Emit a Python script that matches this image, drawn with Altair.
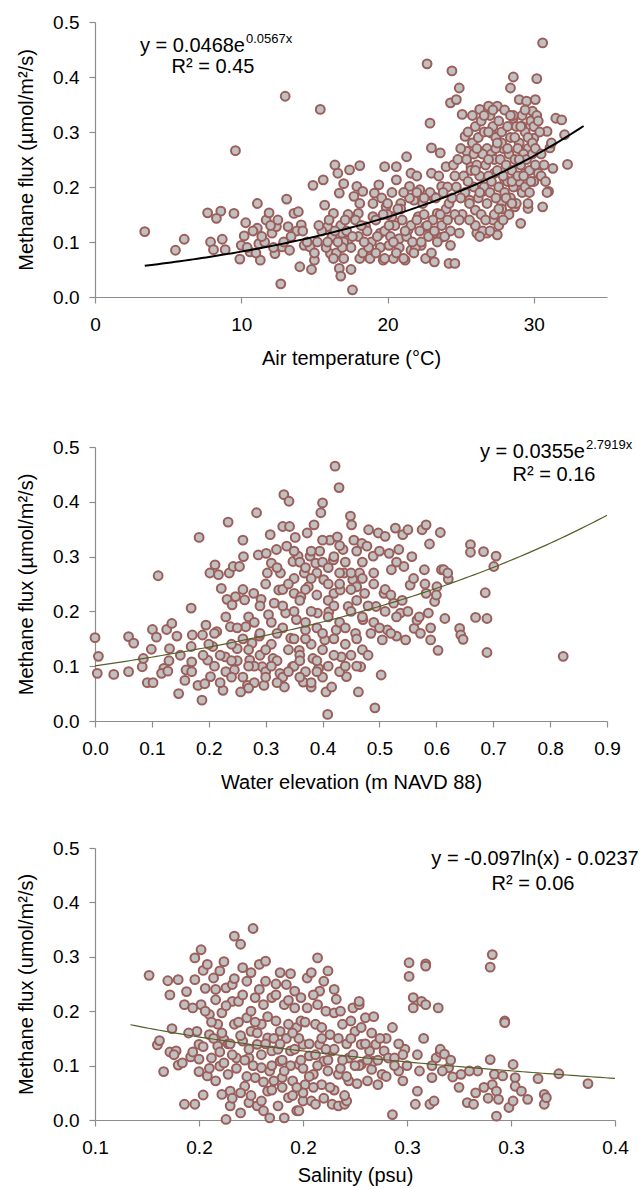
import altair as alt
import pandas as pd

FONT = "Liberation Sans"
FILL = "#c0c0c0"
EDGE = "#9b5e5a"
AXIS_GRAY = "#8c8c8c"

# ---------------- Panel 1: air temperature ----------------
temp_points = [
    (3.4, 0.119), (5.5, 0.085), (6.1, 0.105), (7.7, 0.153), (8.6, 0.156), (8.3, 0.143), (7.9, 0.100),
    (8.1, 0.086), (8.7, 0.105), (8.9, 0.086), (9.5, 0.152), (9.6, 0.266), (10.0, 0.094), (9.9, 0.069),
    (10.2, 0.111), (10.3, 0.135), (11.1, 0.170), (11.1, 0.125), (10.6, 0.082), (11.2, 0.097), (11.3, 0.067),
    (11.7, 0.140), (11.9, 0.153), (12.1, 0.116), (12.3, 0.079), (12.4, 0.128), (12.7, 0.024), (12.8, 0.091),
    (13.1, 0.178), (13.0, 0.365), (13.2, 0.128), (13.3, 0.085), (13.6, 0.152), (13.9, 0.155), (14.1, 0.131),
    (14.0, 0.055), (14.3, 0.094), (14.7, 0.091), (14.8, 0.050), (14.9, 0.203), (15.0, 0.067), (15.4, 0.341),
    (15.6, 0.213), (15.7, 0.167), (15.9, 0.128), (16.1, 0.079), (16.3, 0.152), (16.4, 0.240), (16.6, 0.225),
    (16.7, 0.189), (16.7, 0.052), (16.8, 0.038), (16.9, 0.116), (17.0, 0.206), (17.3, 0.103), (17.4, 0.231),
    (17.5, 0.050), (17.6, 0.013), (17.7, 0.183), (17.9, 0.201), (18.1, 0.239), (18.1, 0.170), (18.3, 0.192),
    (18.1, 0.070), (18.0, 0.152), (18.5, 0.128), (18.8, 0.082), (19.0, 0.146), (19.1, 0.189), (19.4, 0.204),
    (19.5, 0.116), (19.7, 0.067), (19.8, 0.237), (19.9, 0.164), (20.1, 0.094), (20.3, 0.146), (20.4, 0.070),
    (20.6, 0.213), (20.6, 0.237), (20.8, 0.106), (20.9, 0.170), (21.2, 0.067), (21.3, 0.255), (21.4, 0.122),
    (21.5, 0.201), (21.6, 0.225), (21.6, 0.085), (21.8, 0.176), (22.1, 0.146), (22.2, 0.195), (22.3, 0.094),
    (22.6, 0.128), (22.7, 0.424), (22.9, 0.316), (23.0, 0.271), (23.0, 0.225), (23.1, 0.183), (23.2, 0.064),
    (23.2, 0.116), (23.4, 0.152), (23.6, 0.262), (23.7, 0.201), (23.7, 0.109), (24.0, 0.237), (24.2, 0.061),
    (24.3, 0.353), (24.3, 0.094), (24.4, 0.411), (24.6, 0.061), (24.7, 0.359), (24.9, 0.380), (24.9, 0.116),
    (25.1, 0.332), (25.3, 0.292), (25.4, 0.265), (25.6, 0.176), (25.7, 0.237), (26.0, 0.158), (26.1, 0.116),
    (26.3, 0.341), (26.4, 0.262), (26.5, 0.192), (26.8, 0.116), (26.9, 0.347), (27.1, 0.298), (27.3, 0.225),
    (27.5, 0.347), (27.5, 0.113), (27.7, 0.274), (27.8, 0.170), (28.0, 0.213), (28.4, 0.380), (28.6, 0.400),
    (28.6, 0.325), (28.7, 0.164), (28.8, 0.201), (29.1, 0.134), (29.0, 0.359), (29.2, 0.310), (29.4, 0.225),
    (29.5, 0.356), (29.6, 0.161), (29.9, 0.338), (30.0, 0.289), (30.1, 0.359), (30.2, 0.397), (30.3, 0.225),
    (30.6, 0.462), (30.6, 0.164), (30.9, 0.301), (31.0, 0.192), (31.1, 0.271), (31.3, 0.234), (31.5, 0.325),
    (31.9, 0.322), (32.1, 0.295), (32.3, 0.241),
    (25.5, 0.30), (25.8, 0.28), (26.0, 0.31), (26.2, 0.29), (26.4, 0.32), (26.6, 0.30), (26.8, 0.27),
    (27.0, 0.33), (27.2, 0.31), (27.4, 0.29), (27.6, 0.32), (27.8, 0.30), (28.0, 0.34), (28.2, 0.31),
    (28.4, 0.29), (28.6, 0.33), (28.8, 0.31), (29.0, 0.28), (29.2, 0.33), (29.4, 0.30), (29.6, 0.27),
    (29.8, 0.32), (30.0, 0.31), (30.2, 0.33), (30.4, 0.30),
    (25.4, 0.25), (25.7, 0.23), (25.9, 0.26), (26.1, 0.24), (26.3, 0.22), (26.5, 0.26), (26.7, 0.24),
    (26.9, 0.22), (27.1, 0.26), (27.3, 0.25), (27.5, 0.23), (27.7, 0.25), (27.9, 0.27), (28.1, 0.24),
    (28.3, 0.26), (28.5, 0.23), (28.7, 0.25), (28.9, 0.27), (29.1, 0.24), (29.3, 0.26), (29.5, 0.25),
    (29.7, 0.23), (29.9, 0.26), (30.1, 0.24), (30.5, 0.22), (30.8, 0.21),
    (25.3, 0.19), (25.6, 0.17), (25.9, 0.20), (26.2, 0.18), (26.4, 0.15), (26.6, 0.20), (26.8, 0.17),
    (27.0, 0.19), (27.2, 0.14), (27.4, 0.18), (27.6, 0.20), (27.8, 0.16), (28.0, 0.19), (28.2, 0.21),
    (28.4, 0.18), (28.6, 0.20), (28.8, 0.17), (29.0, 0.21), (29.2, 0.19), (29.4, 0.20), (29.7, 0.19),
    (30.0, 0.21), (26.0, 0.13), (26.5, 0.12), (27.0, 0.12), (27.6, 0.13), (27.3, 0.15), (28.3, 0.15),
    (25.2, 0.22), (25.5, 0.21), (25.8, 0.33), (26.1, 0.27), (26.3, 0.19), (26.6, 0.33), (26.7, 0.14),
    (26.9, 0.30), (27.1, 0.21), (27.2, 0.34), (27.4, 0.27), (27.6, 0.16), (27.8, 0.28), (27.9, 0.22),
    (28.1, 0.18), (28.2, 0.27), (28.4, 0.33), (28.5, 0.21), (28.7, 0.29), (28.9, 0.22), (29.0, 0.25),
    (29.1, 0.31), (29.3, 0.22), (29.4, 0.34), (29.6, 0.29), (29.8, 0.21), (29.9, 0.28), (30.1, 0.27),
    (30.3, 0.32), (30.5, 0.26), (30.7, 0.24), (30.9, 0.19), (31.2, 0.28), (25.0, 0.27), (24.6, 0.22),
    (24.1, 0.20), (25.1, 0.15), (25.6, 0.14), (26.3, 0.11), (27.9, 0.14), (28.5, 0.17), (29.6, 0.17),
    (26.0, 0.23), (26.9, 0.25), (27.5, 0.28),
    (15.2, 0.10), (15.5, 0.12), (15.8, 0.09), (16.0, 0.14), (16.2, 0.11), (16.5, 0.08), (16.8, 0.13),
    (17.0, 0.10), (17.2, 0.12), (17.5, 0.09), (17.8, 0.14), (18.0, 0.11), (18.3, 0.08), (18.6, 0.12),
    (18.9, 0.10), (19.2, 0.14), (19.5, 0.09), (19.8, 0.12), (20.0, 0.15), (20.2, 0.11), (20.5, 0.13),
    (20.8, 0.09), (21.0, 0.14), (21.3, 0.11), (21.6, 0.13), (21.9, 0.09), (22.2, 0.12), (22.5, 0.15),
    (22.8, 0.11), (23.1, 0.14), (23.4, 0.10), (23.7, 0.13), (24.0, 0.16), (24.3, 0.12), (24.6, 0.15),
    (24.9, 0.14), (19.0, 0.17), (19.6, 0.18), (20.3, 0.19), (20.9, 0.16), (21.5, 0.18), (22.0, 0.19),
    (22.4, 0.17), (22.9, 0.19), (23.3, 0.18), (23.8, 0.19), (24.2, 0.17), (24.7, 0.20), (25.0, 0.18),
    (23.5, 0.22), (24.5, 0.24), (24.8, 0.25), (22.0, 0.22),
    (16.3, 0.07), (17.0, 0.07), (18.8, 0.07), (19.8, 0.07), (20.6, 0.08), (21.1, 0.07), (21.8, 0.08),
    (22.6, 0.07), (23.0, 0.08), (15.0, 0.08), (14.5, 0.10), (13.8, 0.12), (12.9, 0.10), (12.2, 0.09),
    (11.6, 0.10), (11.0, 0.08),
    (15.3, 0.13), (15.9, 0.10), (16.4, 0.12), (16.9, 0.09), (17.3, 0.15), (17.6, 0.11), (18.2, 0.13),
    (18.7, 0.09), (19.3, 0.11), (19.7, 0.15), (20.1, 0.13), (20.4, 0.10), (20.7, 0.16), (21.2, 0.12),
    (21.7, 0.10), (22.0, 0.14), (22.3, 0.10), (22.7, 0.13), (23.2, 0.12), (23.6, 0.15), (24.1, 0.14),
    (24.4, 0.18), (23.9, 0.11), (22.5, 0.18), (21.1, 0.19), (20.0, 0.17), (19.2, 0.08), (18.4, 0.10),
    (17.1, 0.14), (16.6, 0.10), (14.2, 0.12), (13.4, 0.11), (12.5, 0.14), (12.0, 0.13), (11.4, 0.11),
    (10.8, 0.12), (10.4, 0.09),
]
temp_ticks = [0, 10, 20, 30]
temp_trend = {"a": 0.0468, "b": 0.0567, "x0": 3.4, "x1": 33.4}
temp_eq = ("y = 0.0468e", "0.0567x", "R² = 0.45")

# ---------------- Panel 2: water elevation ----------------
elev_points = [
    (0.000, 0.152), (0.006, 0.118), (0.004, 0.087), (0.033, 0.085), (0.059, 0.154), (0.068, 0.142),
    (0.059, 0.090), (0.083, 0.099), (0.085, 0.114), (0.092, 0.070), (0.102, 0.070), (0.101, 0.167),
    (0.108, 0.153), (0.111, 0.265), (0.099, 0.131), (0.121, 0.096), (0.117, 0.087), (0.126, 0.167),
    (0.135, 0.178), (0.131, 0.132), (0.128, 0.091), (0.144, 0.155), (0.147, 0.050), (0.158, 0.074),
    (0.160, 0.093), (0.169, 0.206), (0.171, 0.157), (0.170, 0.108), (0.169, 0.136), (0.181, 0.065),
    (0.183, 0.335), (0.188, 0.038), (0.189, 0.157), (0.193, 0.068), (0.195, 0.175), (0.198, 0.111),
    (0.202, 0.270), (0.211, 0.285), (0.217, 0.267), (0.203, 0.081), (0.207, 0.136), (0.214, 0.163),
    (0.222, 0.242), (0.225, 0.056), (0.229, 0.117), (0.232, 0.222), (0.234, 0.363), (0.236, 0.270),
    (0.238, 0.172), (0.241, 0.212), (0.243, 0.282), (0.245, 0.093), (0.247, 0.227), (0.250, 0.132),
    (0.254, 0.282), (0.256, 0.053), (0.260, 0.330), (0.261, 0.300), (0.263, 0.221), (0.265, 0.172),
    (0.268, 0.065), (0.272, 0.111), (0.276, 0.142), (0.279, 0.233), (0.284, 0.380), (0.287, 0.303),
    (0.289, 0.155), (0.292, 0.222), (0.294, 0.099), (0.297, 0.065), (0.301, 0.306), (0.303, 0.270),
    (0.305, 0.194), (0.308, 0.340), (0.310, 0.288), (0.313, 0.114), (0.315, 0.215), (0.319, 0.313),
    (0.323, 0.239), (0.325, 0.087), (0.326, 0.270), (0.330, 0.355), (0.332, 0.413), (0.333, 0.062),
    (0.335, 0.197), (0.337, 0.319), (0.341, 0.401), (0.342, 0.355), (0.344, 0.151), (0.347, 0.099),
    (0.348, 0.291), (0.350, 0.233), (0.352, 0.335), (0.354, 0.185), (0.357, 0.301), (0.359, 0.129),
    (0.362, 0.227), (0.366, 0.071), (0.368, 0.270), (0.370, 0.166), (0.373, 0.343), (0.375, 0.245),
    (0.378, 0.301), (0.380, 0.062), (0.383, 0.114), (0.385, 0.358), (0.388, 0.288), (0.391, 0.197),
    (0.393, 0.096), (0.395, 0.310), (0.397, 0.380), (0.400, 0.398), (0.402, 0.258), (0.404, 0.148),
    (0.406, 0.053), (0.409, 0.012), (0.411, 0.199), (0.413, 0.330), (0.416, 0.062), (0.419, 0.294),
    (0.420, 0.233), (0.422, 0.465), (0.424, 0.166), (0.426, 0.336), (0.429, 0.426), (0.431, 0.239),
    (0.433, 0.117), (0.436, 0.313), (0.438, 0.270), (0.442, 0.081), (0.445, 0.209), (0.449, 0.374),
    (0.451, 0.358), (0.453, 0.258), (0.455, 0.330), (0.458, 0.160), (0.460, 0.245), (0.463, 0.053),
    (0.465, 0.270), (0.467, 0.099), (0.469, 0.324), (0.471, 0.185), (0.474, 0.233), (0.478, 0.319),
    (0.481, 0.349), (0.485, 0.160), (0.489, 0.301), (0.492, 0.024), (0.494, 0.209), (0.498, 0.343),
    (0.503, 0.084), (0.505, 0.148), (0.508, 0.233), (0.510, 0.337), (0.514, 0.166), (0.517, 0.306),
    (0.521, 0.276), (0.525, 0.215), (0.528, 0.352), (0.530, 0.155), (0.534, 0.313), (0.537, 0.197),
    (0.541, 0.340), (0.543, 0.282), (0.546, 0.148), (0.550, 0.349), (0.554, 0.248), (0.557, 0.300),
    (0.561, 0.169), (0.566, 0.184), (0.572, 0.160), (0.575, 0.349), (0.579, 0.276), (0.582, 0.358),
    (0.582, 0.233), (0.586, 0.197), (0.588, 0.323), (0.590, 0.148), (0.597, 0.218), (0.601, 0.245),
    (0.603, 0.129), (0.607, 0.344), (0.609, 0.276), (0.613, 0.276), (0.615, 0.187), (0.621, 0.259),
    (0.641, 0.169), (0.643, 0.157), (0.647, 0.149), (0.660, 0.322), (0.660, 0.308), (0.669, 0.189),
    (0.683, 0.309), (0.686, 0.234), (0.689, 0.187), (0.689, 0.125), (0.701, 0.282), (0.705, 0.301),
    (0.823, 0.118),
    (0.21, 0.10), (0.22, 0.12), (0.23, 0.09), (0.24, 0.14), (0.25, 0.11), (0.26, 0.08), (0.27, 0.13),
    (0.28, 0.10), (0.29, 0.12), (0.30, 0.09), (0.31, 0.14), (0.32, 0.11), (0.33, 0.08), (0.34, 0.13),
    (0.35, 0.10), (0.36, 0.12), (0.37, 0.09), (0.38, 0.14), (0.39, 0.11), (0.40, 0.13), (0.41, 0.10),
    (0.42, 0.12), (0.43, 0.09), (0.44, 0.14), (0.45, 0.12), (0.46, 0.10), (0.47, 0.13),
    (0.25, 0.17), (0.27, 0.19), (0.29, 0.16), (0.31, 0.18), (0.33, 0.17), (0.35, 0.20), (0.37, 0.18),
    (0.39, 0.17), (0.41, 0.19), (0.43, 0.18), (0.45, 0.20), (0.47, 0.19), (0.49, 0.18), (0.51, 0.20),
    (0.53, 0.19), (0.55, 0.20),
    (0.33, 0.24), (0.35, 0.26), (0.37, 0.24), (0.39, 0.27), (0.41, 0.25), (0.43, 0.27), (0.45, 0.24),
    (0.47, 0.26), (0.49, 0.25), (0.51, 0.24), (0.36, 0.29), (0.38, 0.31), (0.40, 0.29), (0.42, 0.30),
    (0.44, 0.29), (0.46, 0.31),
    (0.28, 0.07), (0.30, 0.08), (0.32, 0.07), (0.36, 0.08), (0.38, 0.07), (0.40, 0.08), (0.22, 0.07),
    (0.24, 0.08), (0.27, 0.06),
    (0.20, 0.14), (0.21, 0.16), (0.23, 0.19), (0.24, 0.11), (0.26, 0.15), (0.26, 0.24), (0.27, 0.10),
    (0.28, 0.18), (0.29, 0.21), (0.30, 0.13), (0.30, 0.25), (0.31, 0.10), (0.32, 0.16), (0.32, 0.28),
    (0.33, 0.21), (0.34, 0.09), (0.34, 0.25), (0.35, 0.15), (0.35, 0.31), (0.36, 0.22), (0.36, 0.11),
    (0.37, 0.28), (0.37, 0.15), (0.38, 0.20), (0.38, 0.26), (0.39, 0.09), (0.39, 0.23), (0.40, 0.16),
    (0.40, 0.33), (0.41, 0.22), (0.41, 0.28), (0.42, 0.15), (0.42, 0.21), (0.43, 0.25), (0.43, 0.32),
    (0.44, 0.10), (0.44, 0.17), (0.45, 0.27), (0.46, 0.22), (0.46, 0.15), (0.47, 0.29), (0.48, 0.21),
    (0.48, 0.12), (0.49, 0.27), (0.50, 0.17), (0.50, 0.31), (0.52, 0.23), (0.52, 0.16), (0.53, 0.29),
    (0.54, 0.22), (0.56, 0.26), (0.57, 0.19), (0.58, 0.25), (0.59, 0.17), (0.60, 0.23), (0.62, 0.27),
    (0.19, 0.12), (0.17, 0.09), (0.15, 0.12), (0.13, 0.11),
]
elev_ticks = [0.0, 0.1, 0.2, 0.3, 0.4, 0.5, 0.6, 0.7, 0.8, 0.9]
elev_trend = {"a": 0.1007, "b": 1.462, "x0": 0.0, "x1": 0.9}
elev_eq = ("y = 0.0355e", "2.7919x", "R² = 0.16")

# ---------------- Panel 3: salinity ----------------
sal_points = [
    (0.126, 0.266), (0.130, 0.138), (0.131, 0.146), (0.133, 0.089), (0.135, 0.256), (0.136, 0.230),
    (0.137, 0.168), (0.136, 0.125), (0.140, 0.258), (0.140, 0.101), (0.139, 0.127), (0.143, 0.029),
    (0.143, 0.212), (0.144, 0.236), (0.146, 0.116), (0.147, 0.206), (0.148, 0.298), (0.148, 0.029),
    (0.148, 0.258), (0.149, 0.163), (0.150, 0.089), (0.150, 0.139), (0.151, 0.313), (0.151, 0.212),
    (0.152, 0.275), (0.152, 0.046), (0.153, 0.242), (0.154, 0.286), (0.154, 0.081), (0.155, 0.194),
    (0.155, 0.157), (0.156, 0.114), (0.157, 0.261), (0.158, 0.072), (0.158, 0.221), (0.159, 0.176),
    (0.159, 0.136), (0.160, 0.099), (0.160, 0.274), (0.161, 0.047), (0.161, 0.197), (0.162, 0.291),
    (0.162, 0.148), (0.163, 0.001), (0.163, 0.243), (0.164, 0.084), (0.165, 0.026), (0.165, 0.053),
    (0.166, 0.218), (0.166, 0.249), (0.167, 0.338), (0.167, 0.176), (0.168, 0.114), (0.169, 0.218),
    (0.170, 0.323), (0.170, 0.013), (0.171, 0.280), (0.171, 0.145), (0.172, 0.062), (0.173, 0.188),
    (0.173, 0.255), (0.174, 0.032), (0.174, 0.114), (0.175, 0.271), (0.175, 0.163), (0.176, 0.352),
    (0.177, 0.078), (0.177, 0.225), (0.178, 0.026), (0.178, 0.139), (0.179, 0.286), (0.180, 0.176),
    (0.180, 0.096), (0.181, 0.017), (0.181, 0.212), (0.182, 0.255), (0.182, 0.292), (0.183, 0.053),
    (0.183, 0.151), (0.184, 0.004), (0.185, 0.127), (0.185, 0.225), (0.186, 0.072), (0.187, 0.230),
    (0.187, 0.182), (0.188, 0.026), (0.189, 0.108), (0.189, 0.271), (0.189, 0.163), (0.190, 0.078),
    (0.191, 0.004), (0.191, 0.212), (0.192, 0.249), (0.193, 0.176), (0.193, 0.041), (0.194, 0.269),
    (0.194, 0.127), (0.195, 0.072), (0.196, 0.206), (0.196, 0.237), (0.197, 0.017), (0.197, 0.170),
    (0.198, 0.102), (0.198, 0.017), (0.199, 0.225), (0.199, 0.182), (0.200, 0.035), (0.200, 0.139),
    (0.201, 0.065), (0.202, 0.261), (0.202, 0.206), (0.203, 0.118), (0.204, 0.035), (0.204, 0.271),
    (0.205, 0.084), (0.206, 0.176), (0.206, 0.029), (0.207, 0.212), (0.207, 0.298), (0.208, 0.237),
    (0.208, 0.139), (0.209, 0.065), (0.210, 0.255), (0.210, 0.108), (0.211, 0.200), (0.212, 0.274),
    (0.212, 0.090), (0.213, 0.157), (0.214, 0.029), (0.214, 0.127), (0.215, 0.197), (0.216, 0.222),
    (0.217, 0.084), (0.217, 0.026), (0.218, 0.200), (0.219, 0.176), (0.220, 0.029), (0.221, 0.035),
    (0.222, 0.114), (0.222, 0.072), (0.223, 0.182), (0.224, 0.206), (0.225, 0.163), (0.226, 0.067),
    (0.227, 0.212), (0.227, 0.218), (0.228, 0.139), (0.228, 0.102), (0.230, 0.188), (0.231, 0.072),
    (0.232, 0.127), (0.233, 0.093), (0.234, 0.108), (0.235, 0.139), (0.236, 0.065), (0.238, 0.084),
    (0.239, 0.127), (0.241, 0.114), (0.243, 0.010), (0.244, 0.114), (0.246, 0.090), (0.248, 0.072),
    (0.249, 0.130), (0.251, 0.264), (0.251, 0.289), (0.253, 0.206), (0.253, 0.225), (0.254, 0.029),
    (0.255, 0.053), (0.256, 0.090), (0.257, 0.218), (0.259, 0.212), (0.259, 0.287), (0.259, 0.283),
    (0.261, 0.029), (0.262, 0.078), (0.263, 0.035), (0.264, 0.114), (0.265, 0.206), (0.266, 0.124),
    (0.266, 0.130), (0.268, 0.121), (0.270, 0.096), (0.272, 0.079), (0.276, 0.084), (0.279, 0.032),
    (0.282, 0.029), (0.283, 0.050), (0.284, 0.090), (0.290, 0.281), (0.291, 0.304), (0.290, 0.111),
    (0.291, 0.065), (0.292, 0.084), (0.293, 0.007), (0.293, 0.053), (0.294, 0.038), (0.296, 0.081),
    (0.297, 0.182), (0.297, 0.179), (0.299, 0.023), (0.301, 0.035), (0.301, 0.102), (0.302, 0.078),
    (0.302, 0.062), (0.305, 0.053), (0.308, 0.038), (0.313, 0.076), (0.316, 0.047), (0.316, 0.029),
    (0.317, 0.041), (0.323, 0.085), (0.337, 0.067),
    (0.138, 0.120), (0.142, 0.105), (0.145, 0.160), (0.147, 0.125), (0.150, 0.112), (0.152, 0.135),
    (0.155, 0.095), (0.157, 0.150), (0.160, 0.125), (0.162, 0.105), (0.164, 0.140), (0.166, 0.120),
    (0.168, 0.095), (0.170, 0.155), (0.172, 0.110), (0.174, 0.130), (0.176, 0.100), (0.178, 0.160),
    (0.180, 0.120), (0.182, 0.140), (0.184, 0.090), (0.186, 0.150), (0.188, 0.130), (0.190, 0.110),
    (0.192, 0.150), (0.194, 0.100), (0.196, 0.130), (0.198, 0.150), (0.200, 0.095), (0.203, 0.140),
    (0.206, 0.120), (0.209, 0.150), (0.212, 0.110), (0.215, 0.130), (0.218, 0.095), (0.221, 0.140),
    (0.224, 0.120), (0.227, 0.100), (0.230, 0.140), (0.233, 0.160), (0.236, 0.110), (0.240, 0.150),
    (0.244, 0.100), (0.248, 0.120),
    (0.166, 0.040), (0.170, 0.050), (0.175, 0.045), (0.180, 0.035), (0.185, 0.055), (0.190, 0.060),
    (0.195, 0.045), (0.200, 0.050), (0.205, 0.060), (0.210, 0.040), (0.215, 0.055), (0.220, 0.045),
    (0.153, 0.200), (0.156, 0.180), (0.158, 0.240), (0.161, 0.160), (0.163, 0.210), (0.165, 0.140),
    (0.167, 0.260), (0.169, 0.180), (0.171, 0.230), (0.173, 0.080), (0.175, 0.200), (0.177, 0.180),
    (0.179, 0.240), (0.181, 0.070), (0.183, 0.190), (0.185, 0.100), (0.187, 0.250), (0.189, 0.140),
    (0.191, 0.090), (0.193, 0.220), (0.195, 0.160), (0.197, 0.060), (0.199, 0.110), (0.201, 0.180),
    (0.203, 0.080), (0.205, 0.230), (0.207, 0.100), (0.209, 0.170), (0.211, 0.130), (0.213, 0.060),
    (0.215, 0.240), (0.217, 0.150), (0.219, 0.110), (0.221, 0.080), (0.223, 0.150), (0.225, 0.100),
    (0.228, 0.170), (0.231, 0.110), (0.234, 0.190), (0.237, 0.150), (0.240, 0.080), (0.243, 0.170),
    (0.246, 0.140), (0.250, 0.100), (0.255, 0.120), (0.258, 0.150), (0.262, 0.100), (0.267, 0.090),
    (0.271, 0.110), (0.275, 0.060), (0.280, 0.090), (0.287, 0.060), (0.289, 0.040),
]
sal_ticks = [0.10, 0.15, 0.20, 0.25, 0.30, 0.35]
sal_trend = {"a": -0.09, "c": -0.018, "x0": 0.117, "x1": 0.35}
sal_eq = ("y = -0.097ln(x) - 0.0237", "R² = 0.06")

y_ticks = [0.0, 0.1, 0.2, 0.3, 0.4, 0.5]
y_title_1 = "Methane flux (µmol/m²/s)"
y_title_3 = "Methane flux (umol/m²/s)"


def text_layer(label, x, y, size, align, color="black"):
    return alt.Chart(pd.DataFrame({"label": [label]})).mark_text(
        font=FONT, fontSize=size, align=align, baseline="alphabetic", color=color
    ).encode(text="label:N", x=alt.value(x), y=alt.value(y))


def panel(points, xdomain, xticks, xtitle, ytitle, width, height, line_expr, line_range,
          line_color, line_width, texts, label_expr=None, title_pad=14):
    df = pd.DataFrame(points, columns=["x", "flux"])
    xscale = alt.Scale(domain=xdomain, nice=False, zero=False)
    yscale = alt.Scale(domain=[0, 0.5], nice=False)
    ax_kwargs = dict(values=xticks, title=xtitle, labelFlush=False, labelOverlap=False,
                     titlePadding=title_pad)
    if label_expr:
        ax_kwargs["labelExpr"] = label_expr
    elif xdomain[1] < 5:
        ax_kwargs["format"] = ".1f"
    else:
        ax_kwargs["format"] = "d"
    xaxis = alt.Axis(**ax_kwargs)
    yaxis = alt.Axis(values=y_ticks, format=".1f", title=ytitle, labelFlush=False)
    pts = alt.Chart(df).mark_circle(
        size=78, fill=FILL, stroke=EDGE, strokeWidth=2, opacity=1
    ).encode(
        x=alt.X("x:Q", scale=xscale, axis=xaxis),
        y=alt.Y("flux:Q", scale=yscale, axis=yaxis),
    )
    step = (line_range[1] - line_range[0]) / 100.0
    line = alt.Chart(alt.sequence(line_range[0], line_range[1] + step / 2, step, as_="x")).transform_calculate(
        flux=line_expr
    ).mark_line(color=line_color, strokeWidth=line_width).encode(
        x=alt.X("x:Q", scale=xscale), y=alt.Y("flux:Q", scale=yscale)
    )
    return alt.layer(pts, line, *texts).properties(width=width, height=height)


p1 = panel(
    temp_points, [0, 35], temp_ticks, "Air temperature (°C)", y_title_1, 512, 275,
    f"{temp_trend['a']}*exp({temp_trend['b']}*datum.x)", (temp_trend["x0"], temp_trend["x1"]),
    "black", 2,
    [text_layer(temp_eq[0], 150, 30, 20, "right"),
     text_layer(temp_eq[1], 151, 20.5, 13, "left"),
     text_layer(temp_eq[2], 118, 50.5, 20, "center")],
)

p2 = panel(
    elev_points, [0, 0.9], elev_ticks, "Water elevation (m NAVD 88)", y_title_1, 512, 274,
    f"{elev_trend['a']}*exp({elev_trend['b']}*datum.x)", (elev_trend["x0"], elev_trend["x1"]),
    "#55602a", 1.2,
    [text_layer(elev_eq[0], 490, 10.5, 20, "right"),
     text_layer(elev_eq[1], 491, 1.5, 13, "left"),
     text_layer(elev_eq[2], 459, 33.5, 20, "center")],
)

p3 = panel(
    sal_points, [0.1, 0.35], sal_ticks, "Salinity (psu)", y_title_3, 520, 272,
    f"{sal_trend['a']}*log(datum.x) + ({sal_trend['c']})", (sal_trend["x0"], sal_trend["x1"]),
    "#55602a", 1.2,
    [text_layer(sal_eq[0], 440, 16.5, 20, "center"),
     text_layer(sal_eq[1], 438, 41.5, 20, "center")],
    label_expr="format(round(datum.value*10)/10, '.1f')",
    title_pad=8,
)

chart = alt.vconcat(alt.vconcat(p1, p2, spacing=68), p3, spacing=45).properties(
    padding={"left": 16, "top": 12, "right": 0, "bottom": 0}
).configure_view(stroke="transparent").configure_axis(
    grid=False, domainColor=AXIS_GRAY, tickColor=AXIS_GRAY, tickSize=6, domainWidth=1.2, tickWidth=1.2,
    labelFont=FONT, titleFont=FONT, labelFontSize=19, titleFontSize=20, labelColor="black",
    titleColor="black", titleFontWeight="normal",
).configure_axisX(labelPadding=12).configure_axisY(labelPadding=10, titlePadding=16)

chart.save("out.html", embed_options={"renderer": "svg", "actions": False})
